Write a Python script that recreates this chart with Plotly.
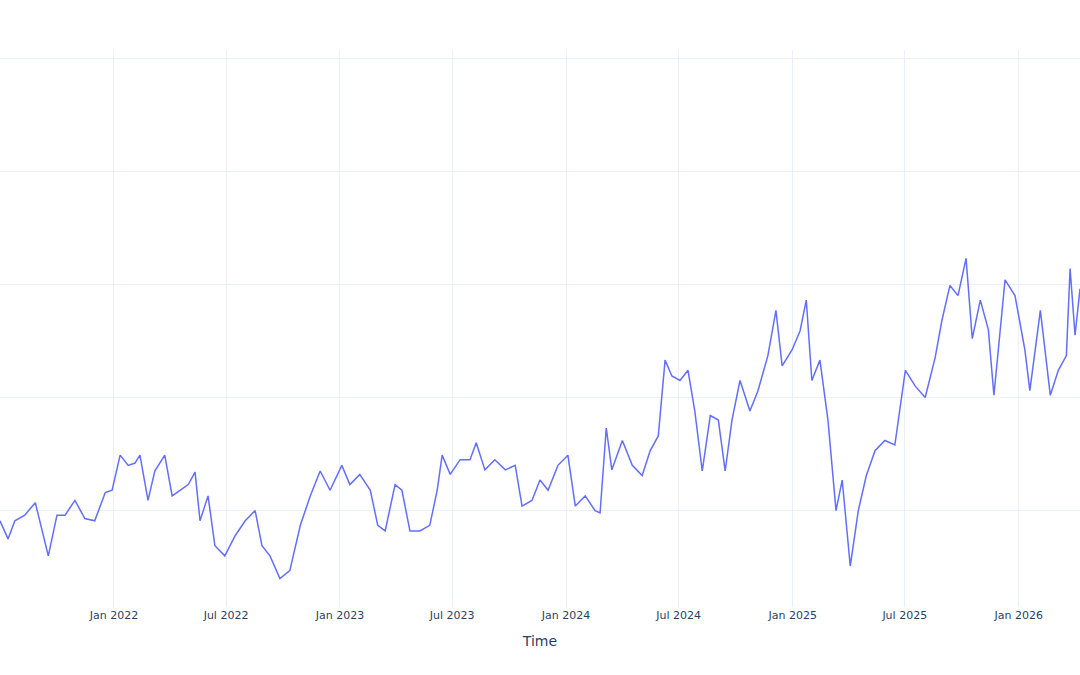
import pandas as pd
import plotly.graph_objects as go

day_offsets = [0,13,24,40,57,68,78,92,105,121,137,153,170,181,194,207,218,226,239,250,266,278,291,304,315,323,336,347,363,380,396,412,423,436,452,468,485,501,517,533,552,565,581,598,610,622,638,649,662,678,694,706,714,727,743,759,769,783,799,816,832,843,859,872,885,901,917,929,945,961,969,979,988,1005,1021,1037,1050,1063,1074,1085,1098,1111,1122,1134,1147,1160,1171,1182,1195,1211,1224,1240,1253,1263,1279,1292,1302,1311,1324,1337,1350,1360,1373,1386,1399,1413,1429,1445,1462,1478,1494,1510,1521,1534,1547,1560,1570,1583,1596,1605,1623,1639,1655,1663,1680,1696,1709,1722,1728,1736,1744]
values = [19.1,17.5,19.1,19.6,20.7,18.2,16.0,19.6,19.6,20.9,19.3,19.1,21.6,21.8,24.9,24.0,24.2,24.9,20.9,23.5,24.9,21.3,21.8,22.3,23.4,19.1,21.3,16.9,16.0,17.8,19.1,20.0,16.9,16.0,14.0,14.7,18.7,21.3,23.5,21.8,24.0,22.3,23.2,21.8,18.7,18.2,22.3,21.8,18.2,18.2,18.7,21.8,24.9,23.2,24.5,24.5,26.0,23.6,24.5,23.6,24.0,20.4,20.9,22.7,21.8,24.0,24.9,20.4,21.3,20.0,19.8,27.3,23.6,26.2,24.0,23.1,25.3,26.6,33.3,31.9,31.5,32.4,28.8,23.5,28.4,28.0,23.5,28.0,31.5,28.8,30.6,33.7,37.7,32.8,34.2,35.9,38.6,31.5,33.3,28.0,20.0,22.7,15.1,20.0,23.1,25.3,26.2,25.8,32.4,31.0,30.0,33.5,36.8,39.9,39.0,42.3,35.2,38.6,36.0,30.2,40.4,39.0,34.2,30.6,37.7,30.2,32.4,33.7,41.4,35.5,39.6]

dates = pd.Timestamp("2021-07-01") + pd.to_timedelta(day_offsets, unit="D")

fig = go.Figure(go.Scatter(x=dates, y=values, mode="lines", line=dict(color="#636efa", width=1.5)))
fig.update_layout(
    template="plotly_white", width=1080, height=675,
    font=dict(family="DejaVu Sans"),
    margin=dict(l=0, r=0, t=50, b=68, autoexpand=False),
    xaxis=dict(title="Time", range=["2021-07-01", "2026-04-10"], dtick="M6", tickformat="%b %Y",
               automargin=False, tickfont=dict(size=11)),
    yaxis=dict(range=[11.48, 60.71], tickvals=[20, 30, 40, 50, 60], showticklabels=False, automargin=False),
    showlegend=False,
)
fig.write_html("out.html", post_script="document.body.style.margin='0';",
               config={"displayModeBar": False})
